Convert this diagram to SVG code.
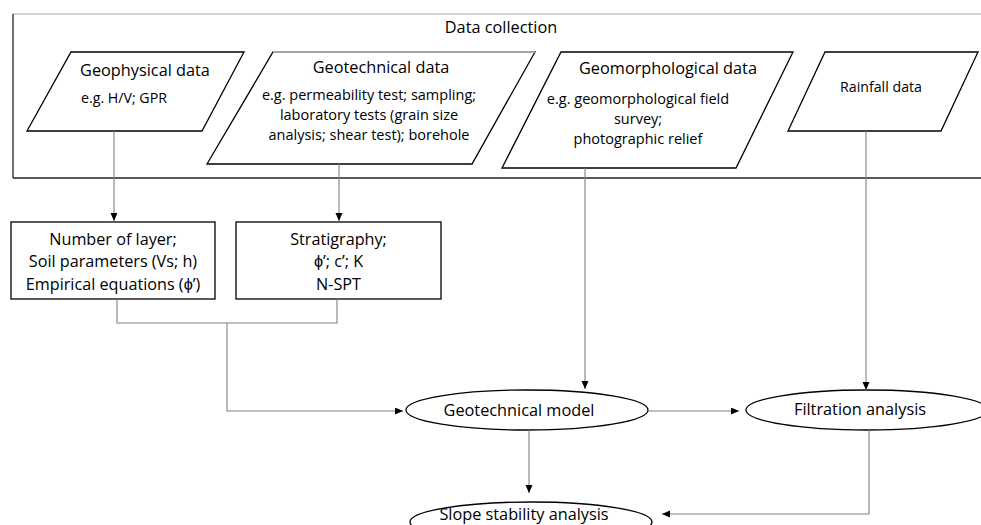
<svg xmlns="http://www.w3.org/2000/svg" width="981" height="525" viewBox="0 0 981 525">
<defs>
<style>
text{font-family:"Open Sans","Liberation Sans",sans-serif;fill:#000;text-anchor:middle}
.t{font-size:16.3px}
.s{font-size:14.5px}
.r{font-size:14.2px}
.b{font-size:16.2px}
.shape{fill:#fff;stroke:#000;stroke-width:1.3}
.con{fill:none;stroke:#808080;stroke-width:1.1}
</style>
<marker id="ah" markerUnits="userSpaceOnUse" markerWidth="8" markerHeight="8" refX="8" refY="3.5" orient="auto">
<path d="M0,0 L8,3.5 L0,7 z" fill="#000"/>
</marker>
</defs>
<rect width="981" height="525" fill="#fff"/>
<g id="data-collection">
<line x1="13" y1="14" x2="981" y2="14" stroke="#d4d4d4" stroke-width="2"/>
<line x1="13" y1="14" x2="13" y2="178" stroke="#222" stroke-width="1.3"/>
<line x1="13" y1="178" x2="981" y2="178" stroke="#222" stroke-width="1.6"/>
<text class="t" x="501" y="33">Data collection</text>
</g>
<g id="geophysical">
<polygon class="shape" points="71,52 244,52 202,131 27,131"/>
<text class="t" x="145" y="76">Geophysical data</text>
<text class="r" x="124" y="103">e.g. H/V; GPR</text>
</g>
<g id="geotechnical">
<polygon class="shape" points="273,52 535,52 472,164 207,164"/>
<line x1="273" y1="52" x2="535" y2="52" stroke="#c8c8c8" stroke-width="1.5"/>
<text class="t" x="381" y="73">Geotechnical data</text>
<text class="s" x="369" y="100">e.g. permeability test; sampling;</text>
<text class="s" x="369" y="120">laboratory tests (grain size</text>
<text class="s" x="369" y="140">analysis; shear test); borehole</text>
</g>
<g id="geomorphological">
<polygon class="shape" points="561,52 793,52 736,168 502,168"/>
<text class="t" x="668" y="74">Geomorphological data</text>
<text class="s" x="638" y="104">e.g. geomorphological field</text>
<text class="s" x="638" y="124">survey;</text>
<text class="s" x="638" y="144">photographic relief</text>
</g>
<g id="rainfall">
<polygon class="shape" points="825,52 978,52 941,131 788,131"/>
<text class="r" x="881" y="92">Rainfall data</text>
</g>
<g id="layers">
<rect class="shape" x="11" y="222" width="204" height="77"/>
<text class="b" x="113" y="245">Number of layer;</text>
<text class="b" x="113" y="267">Soil parameters (Vs; h)</text>
<text class="b" x="113" y="290">Empirical equations (ϕ’)</text>
</g>
<g id="stratigraphy">
<rect class="shape" x="236" y="222" width="205" height="77"/>
<text class="b" x="338.5" y="245">Stratigraphy;</text>
<text class="b" x="338.5" y="267">ϕ’; c’; K</text>
<text class="b" x="338.5" y="290">N-SPT</text>
</g>
<g id="geotechnical-model">
<ellipse class="shape" cx="527" cy="410" rx="121" ry="20"/>
<text class="t" x="519" y="416">Geotechnical model</text>
</g>
<g id="filtration">
<ellipse class="shape" cx="867" cy="410" rx="121" ry="20"/>
<text class="t" x="860" y="415">Filtration analysis</text>
</g>
<g id="slope-stability">
<ellipse class="shape" cx="531" cy="522" rx="121" ry="20"/>
<text class="t" x="524" y="520">Slope stability analysis</text>
</g>
<g id="connectors">
<path class="con" d="M114,131 V221" marker-end="url(#ah)"/>
<path class="con" d="M339,164 V221" marker-end="url(#ah)"/>
<path class="con" d="M585,168 V389" marker-end="url(#ah)"/>
<path class="con" d="M866,131 V390" marker-end="url(#ah)"/>
<path class="con" d="M117,299 V323 H337 V299"/>
<path class="con" d="M227,323 V411 H403" marker-end="url(#ah)"/>
<path class="con" d="M648,411 H739" marker-end="url(#ah)"/>
<path class="con" d="M529,430 V493" marker-end="url(#ah)"/>
<path class="con" d="M869,430 V514 H662" marker-end="url(#ah)"/>
</g>
</svg>
